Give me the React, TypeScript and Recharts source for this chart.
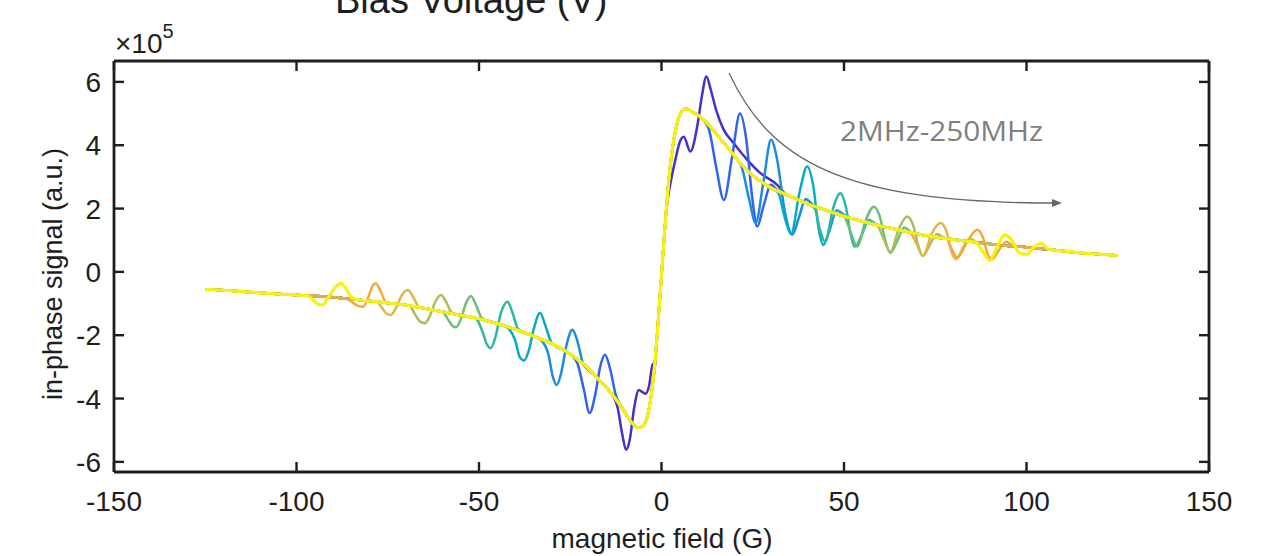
import React from "react";
import { ComposedChart, Line, XAxis, YAxis } from "recharts";

// axis ticks
const fieldTicks = [-150, -100, -50, 0, 50, 100, 150];
const signalTicks = [-6, -4, -2, 0, 2, 4, 6];

// common background curve (field in G, signal in 1e5 a.u.)
const baseField = [
  -125, -120, -115, -110, -105, -100, -95, -90, -85, -80, -75, -70, -65, -60, -55, -50, -46, -42, -38, -34, -30, -27,
  -24, -21, -18, -16, -14, -12, -10, -8, -6.5, -5, -4, -3, -2, -1, 0, 1, 2, 3, 4, 5, 6, 7, 8, 10, 12, 14, 16, 18, 20,
  22, 24, 26, 28, 30, 33, 36, 40, 44, 48, 52, 56, 60, 64, 68, 72, 76, 80, 85, 90, 95, 100, 105, 110, 115, 120, 125,
];
const baseSignal = [
  -0.55, -0.58, -0.62, -0.66, -0.7, -0.73, -0.76, -0.8, -0.86, -0.92, -0.98, -1.05, -1.15, -1.26, -1.37, -1.48, -1.6,
  -1.74, -1.9, -2.08, -2.27, -2.45, -2.68, -2.95, -3.3, -3.55, -3.8, -4.1, -4.45, -4.78, -4.92, -4.85, -4.62, -4.05,
  -3.1, -1.7, -0.1, 1.5, 2.9, 3.9, 4.55, 4.95, 5.12, 5.15, 5.08, 4.95, 4.75, 4.5, 4.22, 3.95, 3.65, 3.38, 3.15, 2.95,
  2.8, 2.65, 2.5, 2.35, 2.15, 1.99, 1.83, 1.69, 1.57, 1.45, 1.35, 1.25, 1.16, 1.08, 1.02, 0.95, 0.88, 0.82, 0.78,
  0.72, 0.66, 0.6, 0.56, 0.52,
];

const traceNames = ["2MHz", "29MHz", "57MHz", "84MHz", "112MHz", "140MHz", "167MHz", "195MHz", "222MHz", "250MHz"];
const traceColors = [
  "#4331c9", "#3064ee", "#1a8ce0", "#0aa8cc", "#2db7a6", "#6cbf7a", "#a9bd5c", "#e2b54a", "#f4a83c", "#f8f012",
];

// oscillation on the positive side, [field, signal]
const wigglePos: number[][][] = [
  [[1.5, 2.1], [2.8, 3.0], [3.8, 3.54], [5, 4.1], [6.1, 4.27], [7.9, 3.8], [9.8, 4.6], [11, 5.5], [12.3, 6.17], [13.5, 5.75], [15, 5.1], [17, 4.5], [19.8, 4.06], [23.5, 3.54], [27.1, 3.12], [31.7, 2.75], [34, 2.45]],
  [[11, 4.85], [13, 4.5], [15, 3.3], [17.1, 2.27], [19.3, 3.6], [21.5, 5.0], [23.2, 4.2], [24.8, 2.4], [26.2, 1.43], [28, 2.1], [30, 2.75], [32, 2.55], [34, 2.45]],
  [[20, 3.65], [22, 3.3], [24, 2.3], [25.8, 1.55], [28, 2.9], [30, 4.17], [31.6, 3.6], [33.8, 1.9], [35.8, 1.17], [37.6, 1.7], [39.5, 2.3], [41.5, 2.12], [44, 1.99]],
  [[30, 2.65], [32, 2.5], [33.8, 1.7], [35.5, 1.2], [37.8, 2.5], [39.9, 3.33], [41.6, 2.7], [43, 1.4], [44.3, 0.85], [46, 1.3], [48, 1.95], [50, 1.8], [52, 1.69]],
  [[40, 2.15], [42, 2.0], [43.5, 1.3], [44.8, 0.95], [47, 2.0], [49, 2.48], [50.6, 2.0], [51.8, 1.2], [53, 0.8], [54.8, 1.15], [56.8, 1.65], [58.8, 1.5], [61, 1.43]],
  [[48, 1.83], [50, 1.75], [52, 1.2], [53.6, 0.8], [56, 1.65], [58.2, 2.06], [59.8, 1.75], [61.3, 1.0], [62.7, 0.6], [64.5, 0.95], [66.5, 1.4], [68.5, 1.25], [70, 1.2]],
  [[57, 1.55], [59, 1.48], [61, 1.0], [62.7, 0.62], [65, 1.35], [67.3, 1.75], [69, 1.45], [70.3, 0.85], [71.6, 0.5], [73.5, 0.85], [75.5, 1.2], [77.5, 1.07], [79, 1.04]],
  [[66, 1.3], [68, 1.25], [70, 0.85], [71.6, 0.5], [74, 1.2], [76.4, 1.54], [78, 1.3], [79.4, 0.65], [80.7, 0.4], [82.5, 0.75], [84.5, 1.05], [86.5, 0.93], [88, 0.9]],
  [[76, 1.08], [78, 1.05], [79.6, 0.7], [81, 0.45], [84, 1.0], [86.5, 1.33], [88, 1.1], [89.4, 0.55], [90.6, 0.4], [92.5, 0.7], [94.5, 0.95], [96.5, 0.82], [98, 0.8]],
  [[84, 0.96], [86, 0.94], [88, 0.65], [90, 0.36], [92, 0.8], [94, 1.17], [96, 1.0], [98, 0.6], [100, 0.55], [102, 0.78], [104, 0.9], [106, 0.72], [108, 0.68]],
];

// oscillation on the negative side, [field, signal]
const wiggleNeg: number[][][] = [
  [[-16, -3.55], [-14, -3.8], [-12, -4.3], [-10.8, -5.1], [-9.7, -5.62], [-8.7, -5.3], [-7.5, -4.3], [-6.2, -3.73], [-5.2, -3.8], [-4.4, -3.85], [-3.4, -3.6], [-2.4, -2.9]],
  [[-27, -2.45], [-25, -2.6], [-23, -2.9], [-21.3, -3.7], [-19.7, -4.46], [-18.2, -3.9], [-16.8, -3.0], [-15.5, -2.62], [-14, -3.1], [-12.5, -3.9], [-11, -4.25]],
  [[-35, -2.03], [-33, -2.15], [-31, -2.6], [-29.8, -3.3], [-28.7, -3.57], [-27.5, -3.2], [-26, -2.3], [-24.4, -1.83], [-23, -2.2], [-21.5, -2.9], [-20, -3.1]],
  [[-44, -1.67], [-42, -1.78], [-40, -2.2], [-38.8, -2.7], [-37.6, -2.8], [-36.4, -2.5], [-35, -1.8], [-33.3, -1.3], [-31.8, -1.7], [-30.3, -2.2], [-29, -2.35]],
  [[-53, -1.41], [-51, -1.45], [-49, -1.9], [-47.8, -2.3], [-46.8, -2.41], [-45.6, -2.1], [-44, -1.3], [-42.2, -0.94], [-40.8, -1.3], [-39.3, -1.8], [-37.5, -1.92]],
  [[-62, -1.22], [-60, -1.26], [-58.5, -1.5], [-57.3, -1.7], [-56.3, -1.75], [-55, -1.5], [-53.6, -1.0], [-52.2, -0.76], [-50.8, -1.05], [-49.3, -1.45], [-47.5, -1.56]],
  [[-71, -1.03], [-69, -1.07], [-67.5, -1.35], [-66, -1.58], [-64.8, -1.62], [-63.5, -1.4], [-62, -0.95], [-60.4, -0.73], [-59, -0.95], [-57.5, -1.28], [-56, -1.35]],
  [[-80, -0.92], [-78, -0.94], [-76.5, -1.15], [-75.2, -1.33], [-74.2, -1.36], [-72.8, -1.15], [-71.2, -0.75], [-69.5, -0.57], [-68, -0.8], [-66.5, -1.1], [-65, -1.15]],
  [[-88, -0.83], [-86, -0.85], [-84.5, -0.98], [-83, -1.08], [-81.8, -1.1], [-80.5, -0.85], [-79.4, -0.5], [-78.3, -0.36], [-77, -0.6], [-75.5, -0.95], [-74, -0.99]],
  [[-99, -0.74], [-97, -0.75], [-95.3, -0.9], [-94, -1.02], [-93, -1.05], [-91.5, -0.85], [-89.5, -0.5], [-87.8, -0.36], [-86.3, -0.55], [-84.8, -0.82], [-83, -0.88]],
];

const INK = "#1e1e1e";
const FONT = "'Liberation Sans', Arial, Helvetica, sans-serif";
const TICK = 10;

// base points outside the two wiggle windows, plus the wiggle points
function buildTrace(pos: number[][], neg: number[][]) {
  const inside = (b: number, w: number[][]) => b >= w[0][0] && b <= w[w.length - 1][0];
  const pts = baseField
    .map((b, i) => [b, baseSignal[i]])
    .filter(([b]) => !inside(b, pos) && !inside(b, neg));
  return [...pts, ...neg, ...pos].sort((a, b) => a[0] - b[0]).map(([B, v]) => ({ B, v }));
}

const traces = traceNames.map((name, i) => ({
  name,
  color: traceColors[i],
  data: buildTrace(wigglePos[i], wiggleNeg[i]),
}));

function BottomTick({ x, y, payload }: any) {
  return (
    <g>
      <line x1={x} x2={x} y1={y} y2={y - TICK} stroke={INK} strokeWidth={2.4} />
      <text x={x} y={y + 39} textAnchor="middle" fontSize={28} fill={INK} fontFamily={FONT}>
        {payload.value}
      </text>
    </g>
  );
}

function TopTick({ x, y }: any) {
  return <line x1={x} x2={x} y1={y} y2={y + TICK} stroke={INK} strokeWidth={2.4} />;
}

function LeftTick({ x, y, payload }: any) {
  return (
    <g>
      <line x1={x} x2={x + TICK} y1={y} y2={y} stroke={INK} strokeWidth={2.4} />
      <text x={x - 13} y={y + 10} textAnchor="end" fontSize={28} fill={INK} fontFamily={FONT}>
        {payload.value}
      </text>
    </g>
  );
}

function RightTick({ x, y }: any) {
  return <line x1={x} x2={x - TICK} y1={y} y2={y} stroke={INK} strokeWidth={2.4} />;
}

export default function App() {
  const W = 1268;
  const H = 556;
  const axisLine = { stroke: INK, strokeWidth: 2.8 };
  return (
    <div style={{ position: "relative", width: W, height: H, background: "#fff", overflow: "hidden" }}>
      <style>{"body{margin:0}"}</style>
      <ComposedChart width={W} height={H} margin={{ top: 60, right: 58, bottom: 0, left: 0 }}>
        <XAxis
          xAxisId="b"
          type="number"
          dataKey="B"
          domain={[-150, 150]}
          ticks={fieldTicks}
          interval={0}
          allowDataOverflow
          height={84}
          tickSize={0}
          tickMargin={0}
          tickLine={false}
          axisLine={axisLine}
          tick={<BottomTick />}
        />
        <XAxis
          xAxisId="t"
          orientation="top"
          type="number"
          dataKey="B"
          domain={[-150, 150]}
          ticks={fieldTicks}
          interval={0}
          allowDataOverflow
          height={1}
          tickSize={0}
          tickMargin={0}
          tickLine={false}
          axisLine={axisLine}
          tick={<TopTick />}
        />
        <YAxis
          yAxisId="l"
          type="number"
          domain={[-6.32, 6.66]}
          ticks={signalTicks}
          interval={0}
          allowDataOverflow
          width={114}
          tickSize={0}
          tickMargin={0}
          tickLine={false}
          axisLine={axisLine}
          tick={<LeftTick />}
        />
        <YAxis
          yAxisId="r"
          orientation="right"
          type="number"
          domain={[-6.32, 6.66]}
          ticks={signalTicks}
          interval={0}
          allowDataOverflow
          width={1}
          tickSize={0}
          tickMargin={0}
          tickLine={false}
          axisLine={axisLine}
          tick={<RightTick />}
        />
        {traces.map((t, i) => (
          <Line
            key={t.name}
            name={t.name}
            data={t.data}
            dataKey="v"
            xAxisId="b"
            yAxisId="l"
            type="monotone"
            stroke={t.color}
            strokeWidth={i === traces.length - 1 ? 3.2 : 2.5}
            dot={false}
            activeDot={false}
            isAnimationActive={false}
          />
        ))}
      </ComposedChart>
      <svg
        width={W}
        height={H}
        style={{ position: "absolute", left: 0, top: 0, pointerEvents: "none" }}
      >
        <text x={335} y={13} fontSize={38} fill={INK} fontFamily={FONT}>
          Bias Voltage (V)
        </text>
        <text x={115} y={53} fontSize={28} fill={INK} fontFamily={FONT}>
          ×10
          <tspan dy={-15} fontSize={20}>
            5
          </tspan>
        </text>
        <text x={662} y={548} textAnchor="middle" fontSize={28} fill={INK} fontFamily={FONT}>
          magnetic field (G)
        </text>
        <text
          x={62}
          y={274}
          transform="rotate(-90 62 274)"
          textAnchor="middle"
          fontSize={27}
          fill={INK}
          fontFamily={FONT}
        >
          in-phase signal (a.u.)
        </text>
        <path d="M729,73 C770,160 840,203 1054,203" fill="none" stroke="#666" strokeWidth={1.3} />
        <path d="M1062,203 L1052,199 L1052,207 Z" fill="#666" />
        <text
          x={840}
          y={141}
          fontSize={28}
          fill="#7f7f7f"
          fontFamily="'Open Sans', sans-serif"
          textLength={203}
          lengthAdjust="spacingAndGlyphs"
        >
          2MHz-250MHz
        </text>
      </svg>
    </div>
  );
}
